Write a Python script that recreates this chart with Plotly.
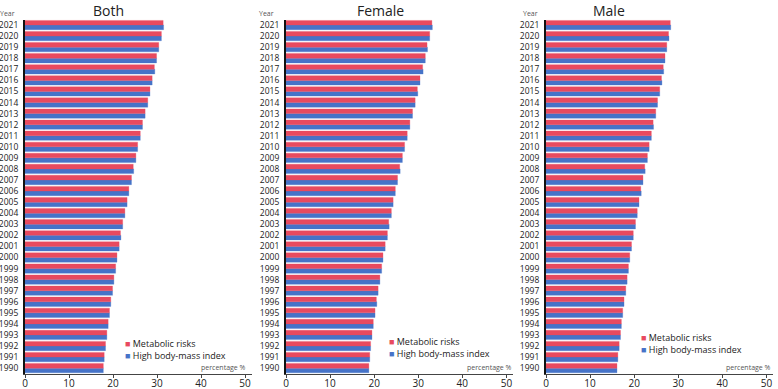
import plotly.graph_objects as go

years = [str(y) for y in range(1990, 2022)]

both_metabolic = [17.8, 18.0, 18.3, 18.6, 18.9, 19.2, 19.5, 19.9, 20.2, 20.6, 20.9, 21.4, 21.7, 22.2, 22.7, 23.2,
                  23.6, 24.2, 24.6, 25.2, 25.6, 26.2, 26.7, 27.3, 27.9, 28.4, 28.9, 29.4, 29.9, 30.4, 31.0, 31.4]
both_bmi = [17.8, 18.0, 18.3, 18.6, 18.9, 19.2, 19.5, 19.9, 20.2, 20.6, 20.9, 21.4, 21.8, 22.2, 22.7, 23.2,
            23.6, 24.2, 24.7, 25.2, 25.6, 26.2, 26.7, 27.3, 27.9, 28.4, 28.9, 29.5, 29.9, 30.4, 31.0, 31.5]

female_metabolic = [18.8, 19.0, 19.2, 19.5, 19.8, 20.2, 20.5, 20.9, 21.3, 21.7, 22.0, 22.5, 23.0, 23.3, 23.9, 24.3,
                    24.8, 25.3, 25.8, 26.4, 26.9, 27.5, 28.1, 28.7, 29.3, 29.8, 30.4, 31.0, 31.6, 32.0, 32.6, 33.1]
female_bmi = [18.8, 19.0, 19.2, 19.5, 19.8, 20.2, 20.6, 20.9, 21.3, 21.7, 22.0, 22.5, 23.0, 23.4, 23.9, 24.3,
              24.8, 25.3, 25.9, 26.4, 26.9, 27.5, 28.1, 28.7, 29.3, 29.9, 30.4, 31.1, 31.6, 32.1, 32.6, 33.2]

male_metabolic = [16.1, 16.3, 16.6, 16.9, 17.1, 17.4, 17.7, 18.1, 18.4, 18.7, 19.0, 19.4, 19.8, 20.3, 20.7, 21.1,
                  21.5, 22.0, 22.4, 23.0, 23.4, 23.9, 24.3, 24.9, 25.3, 25.8, 26.2, 26.6, 27.0, 27.4, 27.8, 28.2]
male_bmi = [16.1, 16.3, 16.6, 16.9, 17.1, 17.4, 17.7, 18.1, 18.4, 18.7, 19.0, 19.4, 19.8, 20.3, 20.7, 21.1,
            21.6, 22.0, 22.5, 23.0, 23.4, 23.9, 24.4, 24.9, 25.3, 25.8, 26.3, 26.7, 27.0, 27.4, 27.9, 28.3]

panel_titles = ["Both", "Female", "Male"]
series_names = ["Metabolic risks", "High body-mass index"]
x_ticks = [0, 10, 20, 30, 40, 50]

RED = "#E84A5F"
BLUE = "#4673C8"
W, H = 778, 389
FONT = "Open Sans"

panels = [
    (both_metabolic, both_bmi),
    (female_metabolic, female_bmi),
    (male_metabolic, male_bmi),
]
# pixel geometry of each panel: (x0, x1)
panel_px = [(25, 251.6), (286, 513), (546, 773)]
y_top_px, y_bot_px = 19.5, 373.7

fig = go.Figure()
for i, (met, bmi) in enumerate(panels):
    sfx = "" if i == 0 else str(i + 1)
    # blue first so that red sits above blue within each year group
    fig.add_trace(go.Bar(
        y=years, x=bmi, orientation="h", name=series_names[1],
        marker=dict(color=BLUE, line=dict(color="rgba(70,115,200,0.3)", width=1)),
        xaxis="x" + sfx, yaxis="y" + sfx, showlegend=False))
    fig.add_trace(go.Bar(
        y=years, x=met, orientation="h", name=series_names[0],
        marker=dict(color=RED, line=dict(color="rgba(232,74,95,0.3)", width=1)),
        xaxis="x" + sfx, yaxis="y" + sfx, showlegend=False))

layout = dict(
    width=W, height=H,
    margin=dict(l=0, r=0, t=0, b=0, pad=0),
    paper_bgcolor="white", plot_bgcolor="white",
    barmode="group", bargap=0.16, bargroupgap=0.0,
    font=dict(family=FONT, color="#222"),
    showlegend=False,
)
ydom = [1 - y_bot_px / H, 1 - y_top_px / H]
for i, (x0, x1) in enumerate(panel_px):
    sfx = "" if i == 0 else str(i + 1)
    layout["xaxis" + sfx] = dict(
        domain=[x0 / W, x1 / W], range=[0, 51.5], anchor="y" + sfx, automargin=False,
        tickvals=x_ticks, ticks="outside", ticklen=3, tickcolor="#444",
        showline=True, linecolor="#444", linewidth=1, showgrid=False, zeroline=False,
        tickfont=dict(size=10, color="#222"), ticklabelstandoff=-3, fixedrange=True)
    layout["yaxis" + sfx] = dict(
        domain=ydom, anchor="x" + sfx, type="category", automargin=False,
        categoryorder="array", categoryarray=years, range=[-0.5, 31.5],
        tickmode="array", tickvals=years, ticktext=years,
        showline=True, linecolor="#111", linewidth=2, ticks="", showgrid=False,
        tickfont=dict(size=8.5, color="#222"), ticklabelstandoff=3)

ann = []
title_px = [108, 380, 609]
year_px = [7.5, 266, 530.5]
pct_px = [248, 514, 773]
legend_px = [(123, 349.3), (387, 347), (638.5, 343.7)]
for i in range(3):
    ann.append(dict(text=panel_titles[i], x=title_px[i] / W, y=1.0, xref="paper", yref="paper",
                    showarrow=False, xanchor="center", yanchor="top", borderpad=0,
                    font=dict(size=14, color="#222")))
    ann.append(dict(text="Year", x=year_px[i] / W, y=1 - 13.5 / H, xref="paper", yref="paper",
                    showarrow=False, xanchor="center", yanchor="middle", font=dict(size=7, color="#555")))
    ann.append(dict(text="percentage %", x=pct_px[i] / W, y=1 - 367 / H, xref="paper", yref="paper",
                    showarrow=False, xanchor="right", yanchor="middle", font=dict(size=7, color="#555")))
    lx, ly = legend_px[i]
    legend_text = "<br>".join(f"<span style='color:{c}'>■</span> {n}" for n, c in zip(series_names, [RED, BLUE]))
    ann.append(dict(text=legend_text, x=lx / W, y=1 - ly / H, align="left",
                    xref="paper", yref="paper", showarrow=False, xanchor="left", yanchor="middle",
                    font=dict(size=9, color="#222")))
layout["annotations"] = ann

fig.update_layout(**layout)
fig.write_html("out.html", config={"displayModeBar": False},
               post_script="document.body.style.margin='0';document.body.style.padding='0';")
